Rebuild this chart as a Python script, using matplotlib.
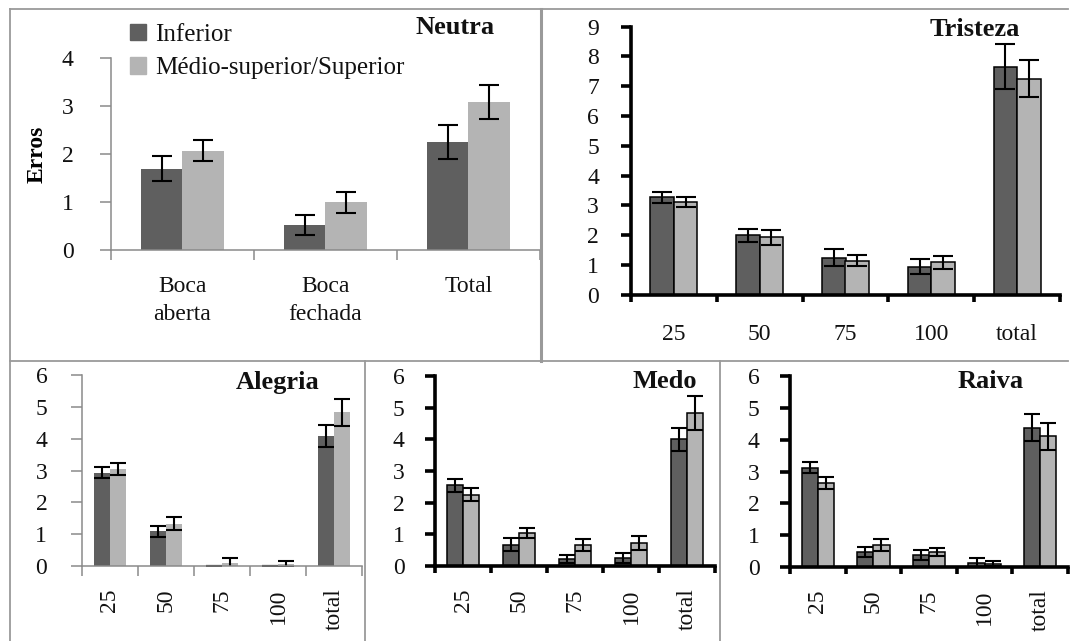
import matplotlib
matplotlib.use("Agg")
import matplotlib.pyplot as plt
import numpy as np
from matplotlib.lines import Line2D
from matplotlib.patches import Patch

W, H = 1070, 641
DARK = "#5f5f5f"
LIGHT = "#b4b4b4"
FRAME = "#9a9a9a"
TEXT = "#111111"
TICK_SIZE = 17
TITLE_SIZE = 19

plt.rcParams["font.family"] = ["Liberation Serif", "DejaVu Serif"]
plt.rcParams["text.color"] = TEXT

series_names = ["Inferior", "Médio-superior/Superior"]

# Neutra: mouth open / closed / total
neutra_labels = ["Boca\naberta", "Boca\nfechada", "Total"]
neutra_inf = [1.69, 0.52, 2.25]
neutra_inf_err = [0.26, 0.21, 0.35]
neutra_sup = [2.07, 0.99, 3.08]
neutra_sup_err = [0.22, 0.21, 0.35]

# intensity levels for the other emotions
level_labels = ["25", "50", "75", "100", "total"]

tristeza_inf = [3.27, 1.99, 1.24, 0.94, 7.66]
tristeza_inf_err = [0.19, 0.23, 0.29, 0.25, 0.76]
tristeza_sup = [3.12, 1.93, 1.14, 1.09, 7.25]
tristeza_sup_err = [0.17, 0.25, 0.18, 0.22, 0.62]

alegria_inf = [2.93, 1.09, 0.0, 0.0, 4.09]
alegria_inf_err = [0.17, 0.17, 0.0, 0.0, 0.34]
alegria_sup = [3.04, 1.33, 0.08, 0.06, 4.83]
alegria_sup_err = [0.18, 0.20, 0.17, 0.10, 0.42]

medo_inf = [2.55, 0.67, 0.21, 0.26, 4.00]
medo_inf_err = [0.20, 0.21, 0.13, 0.16, 0.37]
medo_sup = [2.25, 1.04, 0.67, 0.73, 4.83]
medo_sup_err = [0.21, 0.16, 0.19, 0.23, 0.55]

raiva_inf = [3.12, 0.47, 0.37, 0.13, 4.38]
raiva_inf_err = [0.18, 0.17, 0.15, 0.14, 0.42]
raiva_sup = [2.65, 0.70, 0.47, 0.10, 4.10]
raiva_sup_err = [0.19, 0.19, 0.12, 0.08, 0.41]


def px_axes(fig, left, top, right, bottom):
    return fig.add_axes([left / W, 1 - bottom / H, (right - left) / W, (bottom - top) / H])


def fig_text(fig, x, y, s, **kw):
    return fig.text(x / W, 1 - y / H, s, **kw)


def draw_panel(ax, labels, inf, inf_err, sup, sup_err, ymax, heavy,
               width=0.29, capsize=6.5, ypad=17, xpad=18, rotate=False):
    x = np.arange(len(labels))
    edge = "black" if heavy else "none"
    elw = 1.1 if heavy else 0
    err = dict(ecolor="black", elinewidth=1.5, capthick=1.5, capsize=capsize)
    ax.bar(x - width / 2, inf, width, yerr=inf_err, color=DARK,
           edgecolor=edge, linewidth=elw, error_kw=err, zorder=2)
    ax.bar(x + width / 2, sup, width, yerr=sup_err, color=LIGHT,
           edgecolor=edge, linewidth=elw, error_kw=err, zorder=2)

    ax.set_xlim(-0.5, len(labels) - 0.5)
    ax.set_ylim(0, ymax)
    for side in ("top", "right"):
        ax.spines[side].set_visible(False)

    spine_color = "black" if heavy else "#8a8a8a"
    spine_lw = 2.6 if heavy else 1.1
    for side in ("left", "bottom"):
        ax.spines[side].set_color(spine_color)
        ax.spines[side].set_linewidth(spine_lw)
        ax.spines[side].set_zorder(3)

    ax.set_yticks(np.arange(0, ymax + 1))
    ax.tick_params(axis="y", direction="out", length=7 if heavy else 8,
                   width=spine_lw, color=spine_color, pad=ypad,
                   labelsize=TICK_SIZE, labelcolor=TEXT)

    # labels sit in the middle of each group, tick marks on the boundaries
    ax.set_xticks(x)
    ax.set_xticklabels(labels, rotation=90 if rotate else 0,
                       linespacing=1.4)
    ax.set_xticks(np.arange(len(labels) + 1) - 0.5, minor=True)
    ax.tick_params(axis="x", which="major", length=0, pad=xpad,
                   labelsize=TICK_SIZE, labelcolor=TEXT)
    ax.tick_params(axis="x", which="minor", direction="out",
                   length=5 if heavy else 7, width=spine_lw, color=spine_color)
    ax.patch.set_visible(False)


fig = plt.figure(figsize=(W / 100, H / 100), dpi=100)

# panel frames
frame_lines = [
    ((10, 10), (9, 641)),
    ((10, 1068), (9, 9)),
    ((10, 1068), (361, 361)),
    ((541, 541), (9, 361)),
    ((365, 365), (361, 641)),
    ((720, 720), (361, 641)),
]
for (x0, x1), (y0, y1) in frame_lines:
    fig.add_artist(Line2D([x0 / W, x1 / W], [1 - y0 / H, 1 - y1 / H],
                          transform=fig.transFigure, color=FRAME,
                          lw=2.2 if x0 == 541 else 1.3))

# Neutra
ax_n = px_axes(fig, 111, 58, 540, 250)
draw_panel(ax_n, neutra_labels, neutra_inf, neutra_inf_err,
           neutra_sup, neutra_sup_err, 4, heavy=False,
           width=0.287, capsize=7, ypad=19, xpad=19)
ax_n.set_ylabel("Erros", fontsize=17, fontweight="bold")
ax_n.yaxis.set_label_coords(-0.148, 0.5)
handles = [Patch(color=DARK), Patch(color=LIGHT)]
fig.legend(handles, series_names, loc="upper left",
           bbox_to_anchor=(120 / W, 1 - 14 / H), frameon=False,
           fontsize=18, handlelength=0.62, handleheight=0.62,
           handletextpad=0.4, labelspacing=0.45, borderaxespad=0)
fig_text(fig, 455, 28, "Neutra", ha="center", va="center",
         fontsize=TITLE_SIZE, fontweight="bold")

# Tristeza
ax_t = px_axes(fig, 631, 26.7, 1060, 294.7)
draw_panel(ax_t, level_labels, tristeza_inf, tristeza_inf_err,
           tristeza_sup, tristeza_sup_err, 9, heavy=True,
           width=0.275, capsize=7.5, ypad=16, xpad=21)
fig_text(fig, 975, 30, "Tristeza", ha="center", va="center",
         fontsize=TITLE_SIZE, fontweight="bold")

# Alegria
ax_a = px_axes(fig, 82, 375, 362, 566)
draw_panel(ax_a, level_labels, alegria_inf, alegria_inf_err,
           alegria_sup, alegria_sup_err, 6, heavy=False,
           capsize=6, ypad=17, xpad=16, rotate=True)
fig_text(fig, 278, 382, "Alegria", ha="center", va="center",
         fontsize=TITLE_SIZE, fontweight="bold")

# Medo
ax_m = px_axes(fig, 435, 376, 715, 566)
draw_panel(ax_m, level_labels, medo_inf, medo_inf_err,
           medo_sup, medo_sup_err, 6, heavy=True,
           capsize=6, ypad=15, xpad=16, rotate=True)
fig_text(fig, 665, 382, "Medo", ha="center", va="center",
         fontsize=TITLE_SIZE, fontweight="bold")

# Raiva
ax_r = px_axes(fig, 790, 376, 1068, 567)
draw_panel(ax_r, level_labels, raiva_inf, raiva_inf_err,
           raiva_sup, raiva_sup_err, 6, heavy=True,
           capsize=6, ypad=15, xpad=16, rotate=True)
fig_text(fig, 991, 382, "Raiva", ha="center", va="center",
         fontsize=TITLE_SIZE, fontweight="bold")

fig.savefig("out.png", dpi=100)
plt.close(fig)
